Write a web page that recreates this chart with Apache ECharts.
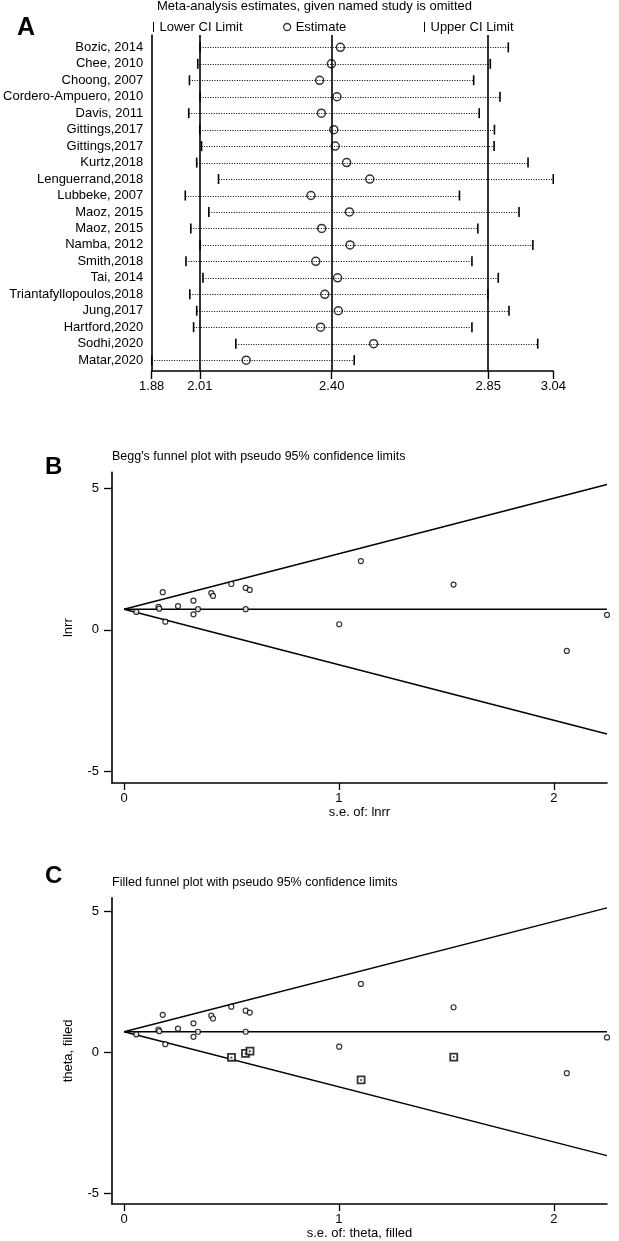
<!DOCTYPE html>
<html><head><meta charset="utf-8">
<script src="https://cdn.jsdelivr.net/npm/echarts@6/dist/echarts.min.js"></script>
<style>html,body{margin:0;padding:0;background:#fff}#c{width:619px;height:1241px}</style>
</head><body><div id="c"></div>
<script>
// ---------- Panel A data ----------
const studies = ['Bozic, 2014','Chee, 2010','Choong, 2007','Cordero-Ampuero, 2010','Davis, 2011','Gittings,2017','Gittings,2017','Kurtz,2018','Lenguerrand,2018','Lubbeke, 2007','Maoz, 2015','Maoz, 2015','Namba, 2012','Smith,2018','Tai, 2014','Triantafyllopoulos,2018','Jung,2017','Hartford,2020','Sodhi,2020','Matar,2020'];
const lowerCI  = [2.020,2.013,1.989,2.020,1.987,2.019,2.024,2.010,2.073,1.977,2.045,1.993,2.020,1.979,2.028,1.990,2.010,2.001,2.123,1.880];
const estimate = [2.425,2.399,2.365,2.415,2.370,2.406,2.410,2.443,2.510,2.340,2.451,2.371,2.453,2.354,2.417,2.380,2.419,2.368,2.521,2.153];
const upperCI  = [2.910,2.858,2.810,2.886,2.826,2.870,2.869,2.967,3.040,2.769,2.941,2.822,2.981,2.805,2.881,2.851,2.912,2.805,2.995,2.465];
const refLines = [2.019, 2.40, 2.852];
const axisATicks = [1.88, 2.019, 2.40, 2.852, 3.04];
const axisATickLabels = ['1.88','2.01','2.40','2.85','3.04'];

// ---------- Panel B / C data ----------
const seStudy    = [0.057,0.180,0.160,0.164,0.192,0.251,0.323,0.323,0.344,0.406,0.414,0.499,0.566,0.585,0.566,1.001,1.102,1.533,2.247,2.060];
const lnrrStudy  = [0.635,1.330,0.810,0.750,0.290,0.840,1.030,0.550,0.730,1.300,1.200,1.620,1.480,1.410,0.730,0.200,2.430,1.600,0.530,-0.740];
const seFilled   = [0.500,0.565,0.586,1.103,1.534];
const thetaFilled= [-0.18,-0.04,0.04,-0.98,-0.17];
const funnelSe    = [0, 2.247];
const funnelMid   = [0.73, 0.73];
const funnelUpper = [0.73, 5.13];
const funnelLower = [0.73, -3.67];
const funnelXTicks = [0, 1, 2];
const funnelYTicks = [-5, 0, 5];

const FONT = 'Liberation Sans, Arial, sans-serif';
const chart = echarts.init(document.getElementById('c'), null, {renderer:'canvas'});

function capRender(params, api){
  const p = api.coord([api.value(0), api.value(1)]);
  return {type:'line', shape:{x1:p[0], y1:p[1]-5, x2:p[0], y2:p[1]+5},
          style:{stroke:'#000', lineWidth:1.6}};
}

const funnelAxisX = (idx, name) => ({
  type:'value', gridIndex:idx, min:-0.056, max:2.247,
  name:name, nameLocation:'middle', nameGap:20,
  nameTextStyle:{fontFamily:FONT, fontSize:13, color:'#000'},
  axisLine:{show:true, onZero:false, lineStyle:{color:'#000', width:1.6}},
  axisTick:{show:true, length:7, customValues:funnelXTicks, lineStyle:{color:'#000', width:1.3}},
  axisLabel:{customValues:funnelXTicks, margin:9, fontFamily:FONT, fontSize:13, color:'#000'},
  splitLine:{show:false}
});
const funnelAxisY = (idx, name, min, max) => ({
  type:'value', gridIndex:idx, min:min, max:max,
  name:name, nameLocation:'middle', nameGap:37,
  nameTextStyle:{fontFamily:FONT, fontSize:13, color:'#000'},
  axisLine:{show:true, onZero:false, lineStyle:{color:'#000', width:1.6}},
  axisTick:{show:true, length:8, customValues:funnelYTicks, lineStyle:{color:'#000', width:1.3}},
  axisLabel:{customValues:funnelYTicks, margin:13, fontFamily:FONT, fontSize:13, color:'#000'},
  splitLine:{show:false}
});
const funnelLine = (idx, ys) => ({
  type:'line', xAxisIndex:idx, yAxisIndex:idx, symbol:'none', silent:true,
  lineStyle:{color:'#000', width:1.4}, data: funnelSe.map((s,i)=>[s, ys[i]])
});
const studyPoints = (idx) => ({
  type:'scatter', xAxisIndex:idx, yAxisIndex:idx, symbol:'circle', symbolSize:5,
  itemStyle:{color:'#fff', borderColor:'#000', borderWidth:1.2}, silent:true,
  data: seStudy.map((s,i)=>[s, lnrrStudy[i]]), z:5
});

const option = {
  animation:false,
  backgroundColor:'#fff',
  textStyle:{fontFamily:FONT},
  title:[
    {text:'Meta-analysis estimates, given named study is omitted', left:157, top:-1, padding:0,
     textStyle:{fontFamily:FONT, fontSize:13, fontWeight:'normal', color:'#000', lineHeight:15}},
    {text:'A', left:17, top:16, padding:0, textStyle:{fontFamily:FONT, fontSize:25, fontWeight:'bold', color:'#000', lineHeight:25}},
    {text:'B', left:45, top:455, padding:0, textStyle:{fontFamily:FONT, fontSize:24, fontWeight:'bold', color:'#000', lineHeight:24}},
    {text:'C', left:45, top:864, padding:0, textStyle:{fontFamily:FONT, fontSize:24, fontWeight:'bold', color:'#000', lineHeight:24}},
    {text:"Begg's funnel plot with pseudo 95% confidence limits", left:112, top:450, padding:0,
     textStyle:{fontFamily:FONT, fontSize:12.5, fontWeight:'normal', color:'#000', lineHeight:14}},
    {text:'Filled funnel plot with pseudo 95% confidence limits', left:112, top:876, padding:0,
     textStyle:{fontFamily:FONT, fontSize:12.5, fontWeight:'normal', color:'#000', lineHeight:14}}
  ],
  legend:[
    {data:[{name:'Lower CI Limit', icon:'path://M0,0 L2,0 L2,20 L0,20 Z'}], left:153, top:20, itemWidth:2, itemHeight:10, padding:0,
     selectedMode:false, textStyle:{fontFamily:FONT, fontSize:13, color:'#000', lineHeight:14}},
    {data:[{name:'Estimate', icon:'circle', itemStyle:{color:'#fff', borderColor:'#000', borderWidth:1.3}}], left:283, top:20, itemWidth:7, itemHeight:7, padding:0,
     selectedMode:false, textStyle:{fontFamily:FONT, fontSize:13, color:'#000', lineHeight:14}},
    {data:[{name:'Upper CI Limit', icon:'path://M0,0 L2,0 L2,20 L0,20 Z'}], left:424, top:20, itemWidth:2, itemHeight:10, padding:0,
     selectedMode:false, textStyle:{fontFamily:FONT, fontSize:13, color:'#000', lineHeight:14}}
  ],
  grid:[
    {left:151.7, top:35, width:401.6, height:336},
    {left:112, top:472.3, width:495, height:310.7},
    {left:112, top:897.7, width:495, height:310}
  ],
  xAxis:[
    {type:'value', gridIndex:0, min:1.88, max:3.04,
     axisLine:{show:true, onZero:false, lineStyle:{color:'#000', width:1.6}},
     axisTick:{show:true, length:8, customValues:axisATicks, lineStyle:{color:'#000', width:1.4}},
     axisLabel:{customValues:axisATicks, margin:9, fontFamily:FONT, fontSize:13, color:'#000',
       formatter:(v)=>{let b=0; axisATicks.forEach((t,i)=>{if(Math.abs(t-v)<Math.abs(axisATicks[b]-v)) b=i;}); return axisATickLabels[b];}},
     splitLine:{show:false}},
    funnelAxisX(1, 's.e. of: lnrr'),
    funnelAxisX(2, 's.e. of: theta, filled')
  ],
  yAxis:[
    {type:'value', gridIndex:0, min:0.25, max:20.66, inverse:true,
     axisLine:{show:true, onZero:false, lineStyle:{color:'#000', width:1.6}},
     axisTick:{show:false},
     axisLabel:{customValues:studies.map((s,i)=>i+1), margin:8.5, fontFamily:FONT, fontSize:13, color:'#000',
       formatter:(v)=>studies[Math.round(v)-1]},
     splitLine:{show:false}},
    funnelAxisY(1, 'lnrr', -5.4, 5.56),
    funnelAxisY(2, 'theta, filled', -5.39, 5.49)
  ],
  series:[
    // Panel A: dotted CI lines
    {type:'custom', name:'ci', xAxisIndex:0, yAxisIndex:0, silent:true, clip:true,
     data: studies.map((s,i)=>[lowerCI[i], upperCI[i], i+1]),
     encode:{x:[0,1], y:2},
     renderItem:(params, api)=>{
       const a = api.coord([api.value(0), api.value(2)]);
       const b = api.coord([api.value(1), api.value(2)]);
       const y = Math.round(a[1]) + 0.5;
       return {type:'line', shape:{x1:a[0], y1:y, x2:b[0], y2:y},
               style:{stroke:'#000', lineWidth:1, lineDash:[1,1.5]}};
     }},
    {type:'custom', name:'Lower CI Limit', xAxisIndex:0, yAxisIndex:0, silent:true, clip:true,
     itemStyle:{color:'#000'},
     data: studies.map((s,i)=>[lowerCI[i], i+1]), encode:{x:0, y:1}, renderItem:capRender},
    {type:'custom', name:'Upper CI Limit', xAxisIndex:0, yAxisIndex:0, silent:true, clip:true,
     itemStyle:{color:'#000'},
     data: studies.map((s,i)=>[upperCI[i], i+1]), encode:{x:0, y:1}, renderItem:capRender},
    {type:'scatter', name:'Estimate', xAxisIndex:0, yAxisIndex:0, silent:true,
     symbol:'circle', symbolSize:8,
     itemStyle:{color:'rgba(255,255,255,0)', borderColor:'#000', borderWidth:1.5},
     data: studies.map((s,i)=>[estimate[i], i+1]), z:5,
     markLine:{symbol:'none', silent:true, label:{show:false},
       lineStyle:{color:'#000', width:1.6, type:'solid'},
       data: refLines.map(v=>({xAxis:v}))}},
    // Panel B
    funnelLine(1, funnelUpper), funnelLine(1, funnelMid), funnelLine(1, funnelLower),
    studyPoints(1),
    // Panel C
    funnelLine(2, funnelUpper), funnelLine(2, funnelMid), funnelLine(2, funnelLower),
    studyPoints(2),
    {type:'scatter', xAxisIndex:2, yAxisIndex:2, symbol:'rect', symbolSize:7, silent:true,
     itemStyle:{color:'#fff', borderColor:'#000', borderWidth:1.8},
     data: seFilled.map((s,i)=>[s, thetaFilled[i]]), z:6},
    {type:'scatter', xAxisIndex:2, yAxisIndex:2, symbol:'circle', symbolSize:2, silent:true,
     itemStyle:{color:'#000'},
     data: seFilled.map((s,i)=>[s, thetaFilled[i]]), z:7}
  ]
};
chart.setOption(option);
</script></body></html>
